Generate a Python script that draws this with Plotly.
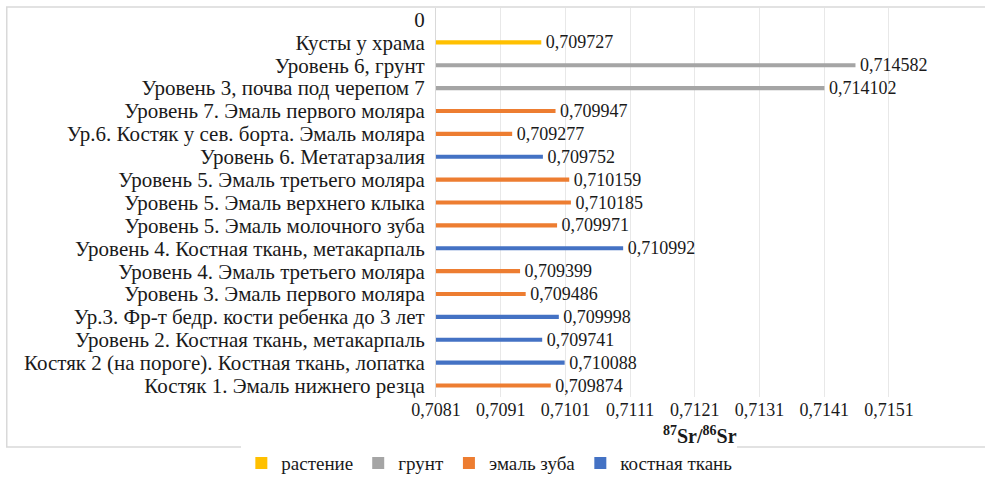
import plotly.graph_objects as go

# Samples, top to bottom as listed on the axis
samples = [
    "0",
    "Кусты у храма",
    "Уровень 6, грунт",
    "Уровень 3, почва под черепом 7",
    "Уровень 7. Эмаль первого моляра",
    "Ур.6. Костяк у сев. борта. Эмаль моляра",
    "Уровень 6. Метатарзалия",
    "Уровень 5. Эмаль третьего моляра",
    "Уровень 5. Эмаль верхнего клыка",
    "Уровень 5. Эмаль молочного зуба",
    "Уровень 4. Костная ткань, метакарпаль",
    "Уровень 4. Эмаль третьего моляра",
    "Уровень 3. Эмаль первого моляра",
    "Ур.3. Фр-т бедр. кости ребенка до 3 лет",
    "Уровень 2. Костная ткань, метакарпаль",
    "Костяк 2 (на пороге). Костная ткань, лопатка",
    "Костяк 1. Эмаль нижнего резца",
]

# 87Sr/86Sr ratio per sample (None = no measurement)
ratios = [
    None, 0.709727, 0.714582, 0.714102, 0.709947, 0.709277, 0.709752,
    0.710159, 0.710185, 0.709971, 0.710992, 0.709399, 0.709486,
    0.709998, 0.709741, 0.710088, 0.709874,
]

# Material group for each sample
groups = [
    None, "растение", "грунт", "грунт", "эмаль зуба", "эмаль зуба",
    "костная ткань", "эмаль зуба", "эмаль зуба", "эмаль зуба",
    "костная ткань", "эмаль зуба", "эмаль зуба", "костная ткань",
    "костная ткань", "костная ткань", "эмаль зуба",
]

group_order = ["растение", "грунт", "эмаль зуба", "костная ткань"]
group_colors = {
    "растение": "#FFC000",
    "грунт": "#A5A5A5",
    "эмаль зуба": "#ED7D31",
    "костная ткань": "#4472C4",
}

axis_title = "<b><sup>87</sup>Sr/<sup>86</sup>Sr</b>"

FONT = "Liberation Serif, Times New Roman, serif"
INK = "#1a1a1a"

fig = go.Figure()

# Rows without a measurement still get their slot on the axis
empty_rows = [s for s, gg in zip(samples, groups) if gg is None]
fig.add_trace(go.Bar(
    y=empty_rows, x=[None] * len(empty_rows), orientation="h",
    showlegend=False, hoverinfo="skip", marker=dict(color="rgba(0,0,0,0)"),
))

for g in group_order:
    ys = [s for s, gg in zip(samples, groups) if gg == g]
    xs = [v for v, gg in zip(ratios, groups) if gg == g]
    fig.add_trace(go.Bar(
        name=g,
        y=ys,
        x=xs,
        orientation="h",
        width=0.18,
        marker=dict(color=group_colors[g], line=dict(width=0)),
        texttemplate="\u00a0%{x:.6f}",
        textposition="outside",
        constraintext="none",
        cliponaxis=False,
        textfont=dict(family=FONT, size=18, color=INK),
    ))

# Outer chart frame
fig.add_shape(type="rect", xref="paper", yref="paper",
              x0=-0.845, x1=1.1, y0=-0.1285, y1=1.0026,
              line=dict(color="#D9D9D9", width=1.5), layer="below")

# Axis title placed just under the tick labels
fig.add_annotation(
    text=axis_title, xref="paper", yref="paper",
    x=0.52, y=-0.097, xanchor="center", yanchor="middle",
    showarrow=False, font=dict(family=FONT, size=20, color=INK),
)

fig.update_layout(
    width=985, height=481,
    margin=dict(l=436, r=41, t=8, b=84, autoexpand=False),
    paper_bgcolor="white",
    plot_bgcolor="white",
    barmode="overlay",
    separators=", ",
    font=dict(family=FONT, size=18, color=INK),
    showlegend=True,
    legend=dict(
        orientation="h",
        x=0.105, xanchor="center",
        y=-0.17, yanchor="middle",
        font=dict(family=FONT, size=19, color=INK),
        itemwidth=30,
        traceorder="normal",
    ),
    xaxis=dict(
        range=[0.7081, 0.71595],
        tick0=0.7081,
        dtick=0.001,
        tickformat=".4f",
        showgrid=True,
        gridcolor="#E8E8E8",
        gridwidth=1,
        zeroline=False,
        showline=False,
        ticks="",
        ticklabelstandoff=0,
        tickfont=dict(family=FONT, size=18, color=INK),
    ),
    yaxis=dict(
        type="category",
        categoryorder="array",
        categoryarray=samples,
        tickmode="array",
        tickvals=samples,
        ticktext=samples,
        autorange="reversed",
        showgrid=False,
        zeroline=False,
        showline=True,
        linecolor="#D9D9D9",
        linewidth=1,
        ticks="",
        ticklabelstandoff=6,
        tickfont=dict(family=FONT, size=21, color=INK),
    ),
)

fig.write_html("out.html")
